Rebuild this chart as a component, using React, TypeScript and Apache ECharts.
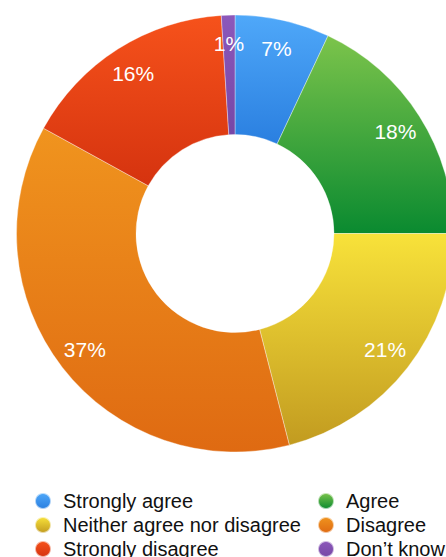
import React, { useEffect, useRef } from "react";
import * as echarts from "echarts";

const categories = [
  "Strongly agree",
  "Agree",
  "Neither agree nor disagree",
  "Disagree",
  "Strongly disagree",
  "Don\u2019t know",
];
const values = [7, 18, 21, 37, 16, 1];
const gradients: [string, string][] = [
  ["#4fa8f9", "#2a7fe0"],
  ["#7cc44b", "#0a8a30"],
  ["#f8e23a", "#c29b20"],
  ["#f0941e", "#df6a12"],
  ["#f6521b", "#d5330f"],
  ["#8c58ba", "#7647a6"],
];
const legendLeft = ["Strongly agree", "Neither agree nor disagree", "Strongly disagree"];
const legendRight = ["Agree", "Disagree", "Don\u2019t know"];

const grad = (c: [string, string]) =>
  new echarts.graphic.LinearGradient(0, 0, 0, 1, [
    { offset: 0, color: c[0] },
    { offset: 1, color: c[1] },
  ]);

export default function App() {
  const ref = useRef<HTMLDivElement>(null);
  useEffect(() => {
    if (!ref.current) return;
    const chart = echarts.init(ref.current, null, { renderer: "svg" });
    const data = categories.map((name, i) => ({
      name,
      value: values[i],
      itemStyle: { color: grad(gradients[i]) },
    }));
    const font = "'Liberation Sans', Arial, Helvetica, sans-serif";
    const legendCommon = {
      orient: "vertical" as const,
      top: 491,
      height: 70,
      padding: 0,
      itemWidth: 16,
      itemHeight: 16,
      itemGap: 4,
      icon: "circle",
      selectedMode: false,
      textStyle: {
        fontFamily: font,
        fontSize: 20,
        lineHeight: 19,
        color: "#111",
        padding: [0, 0, 0, 7],
      },
    };
    chart.setOption({
      animation: false,
      backgroundColor: "#fff",
      legend: [
        { ...legendCommon, left: 34, data: legendLeft },
        { ...legendCommon, left: 317, data: legendRight },
      ],
      series: [
        {
          type: "pie",
          center: [235, 233.5],
          radius: [99, 218.5],
          startAngle: 90,
          clockwise: true,
          data,
          label: { show: false },
          labelLine: { show: false },
          itemStyle: { borderColor: "rgba(255,255,255,0.6)", borderWidth: 0.6 },
          emphasis: { disabled: true },
          silent: true,
        },
        {
          type: "pie",
          center: [235, 233.5],
          radius: [156, 218],
          startAngle: 90,
          clockwise: true,
          data: categories.map((name, i) => ({ name, value: values[i] })),
          itemStyle: { color: "transparent" },
          label: {
            show: true,
            position: "inside",
            formatter: "{c}%",
            color: "#fff",
            fontFamily: font,
            fontSize: 21,
          },
          labelLine: { show: false },
          emphasis: { disabled: true },
          silent: true,
        },
      ],
    });
    return () => chart.dispose();
  }, []);
  return (
    <div
      ref={ref}
      style={{ position: "fixed", left: 0, top: 0, width: 446, height: 557 }}
    />
  );
}
